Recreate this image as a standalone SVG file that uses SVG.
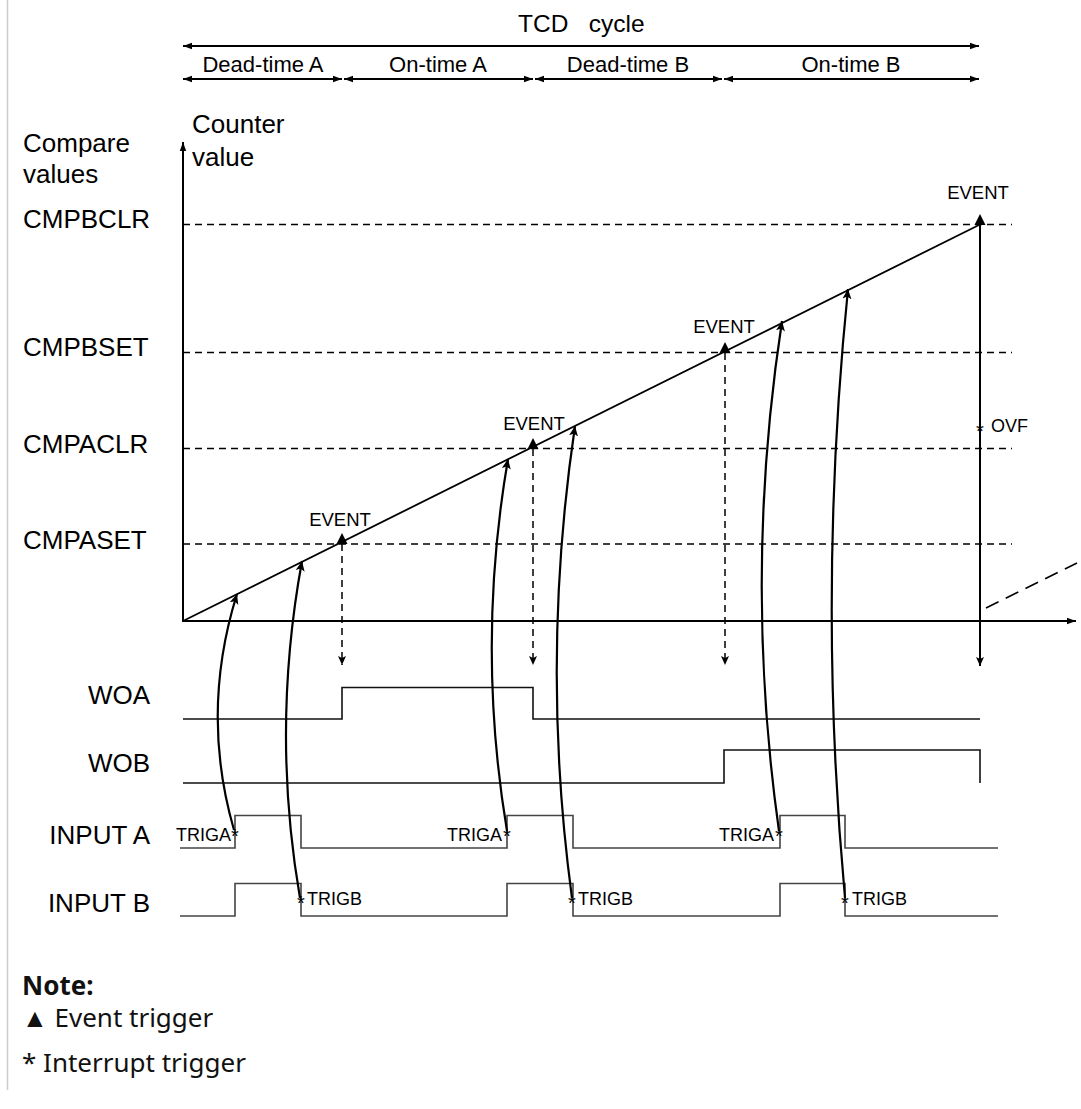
<svg xmlns="http://www.w3.org/2000/svg" width="1081" height="1109" viewBox="0 0 1081 1109">
<style>
.t{font-family:"Liberation Sans",Arial,sans-serif;fill:#000}
.lab{font-size:26px}
.seg{font-size:22px;text-anchor:middle}
.ev{font-size:18.5px;text-anchor:middle}
.tr{font-size:18px}
.st{font-family:"Liberation Sans",Arial,sans-serif;font-size:20px;text-anchor:middle}
.note{font-family:"Noto Sans","Open Sans",sans-serif;font-size:26px;fill:#111}
.dash{stroke:#000;stroke-width:1.5;stroke-dasharray:7 5;fill:none}
.ax{stroke:#000;stroke-width:2;fill:none}
.cur{stroke:#000;stroke-width:2.2;fill:none}
.sig{stroke:#111;stroke-width:1.6;fill:none}
.inp{stroke:#444;stroke-width:1.6;fill:none}
</style>
<defs>
<marker id="sm" markerUnits="userSpaceOnUse" markerWidth="10" markerHeight="8" refX="9" refY="4" orient="auto-start-reverse"><path d="M0,0.8 L9,4 L0,7.2 Z" fill="#000"/></marker>
<marker id="ah" markerUnits="userSpaceOnUse" markerWidth="11" markerHeight="10" refX="10" refY="5" orient="auto-start-reverse"><path d="M0,0.5 L10,5 L0,9.5 L2.5,5 Z" fill="#000"/></marker>
<marker id="dn" markerUnits="userSpaceOnUse" markerWidth="10" markerHeight="10" refX="9" refY="5" orient="auto"><path d="M0,1 L9,5 L0,9 L2,5 Z" fill="#000"/></marker>
</defs>
<rect width="1081" height="1109" fill="#fff"/>
<line x1="7.5" y1="0" x2="7.5" y2="1090" stroke="#ccc" stroke-width="1.5"/>

<g id="cycle">
<text class="t" x="518" y="32" font-size="24.5" xml:space="preserve">TCD   cycle</text>
<line x1="183" y1="46" x2="979" y2="46" stroke="#000" stroke-width="1.8" marker-start="url(#sm)" marker-end="url(#sm)"/>
</g>
<g id="phases">
<text class="t seg" x="263" y="72">Dead-time A</text>
<text class="t seg" x="438" y="72">On-time A</text>
<text class="t seg" x="628" y="72">Dead-time B</text>
<text class="t seg" x="851" y="72">On-time B</text>
<line x1="183" y1="79" x2="342" y2="79" stroke="#000" stroke-width="1.8" marker-start="url(#sm)" marker-end="url(#sm)"/>
<line x1="344" y1="79" x2="533" y2="79" stroke="#000" stroke-width="1.8" marker-start="url(#sm)" marker-end="url(#sm)"/>
<line x1="535" y1="79" x2="722" y2="79" stroke="#000" stroke-width="1.8" marker-start="url(#sm)" marker-end="url(#sm)"/>
<line x1="724" y1="79" x2="979" y2="79" stroke="#000" stroke-width="1.8" marker-start="url(#sm)" marker-end="url(#sm)"/>
</g>

<g id="labels">
<text class="t lab" x="23" y="152">Compare</text>
<text class="t lab" x="23" y="183">values</text>
<text class="t lab" x="192" y="133">Counter</text>
<text class="t lab" x="192" y="166">value</text>
<text class="t lab" x="23" y="228">CMPBCLR</text>
<text class="t lab" x="23" y="356">CMPBSET</text>
<text class="t lab" x="23" y="453">CMPACLR</text>
<text class="t lab" x="23" y="549">CMPASET</text>
<text class="t lab" x="150" y="704" text-anchor="end">WOA</text>
<text class="t lab" x="150" y="772" text-anchor="end">WOB</text>
<text class="t lab" x="150" y="844" text-anchor="end">INPUT A</text>
<text class="t lab" x="150" y="912" text-anchor="end">INPUT B</text>
</g>

<g id="chart">
<line class="dash" x1="183" y1="224.5" x2="1012" y2="224.5"/>
<line class="dash" x1="183" y1="352.5" x2="1012" y2="352.5"/>
<line class="dash" x1="183" y1="448.5" x2="1012" y2="448.5"/>
<line class="dash" x1="183" y1="544" x2="1012" y2="544"/>
<line class="ax" x1="183" y1="622" x2="183" y2="142" marker-end="url(#sm)"/>
<line class="ax" x1="182" y1="621" x2="1076" y2="621" marker-end="url(#sm)"/>
<line x1="183" y1="621" x2="979" y2="225" stroke="#000" stroke-width="1.8"/>
<line x1="986" y1="608" x2="1077" y2="563" stroke="#000" stroke-width="1.6" stroke-dasharray="14 8"/>
</g>

<g id="events">
<text class="t ev" x="340" y="526">EVENT</text>
<text class="t ev" x="534" y="430">EVENT</text>
<text class="t ev" x="724" y="333">EVENT</text>
<text class="t ev" x="978" y="199">EVENT</text>
<path d="M342,533 L336.5,544 L347.5,544 Z" fill="#000"/>
<path d="M533,438 L527.5,449 L538.5,449 Z" fill="#000"/>
<path d="M725,342 L719.5,353 L730.5,353 Z" fill="#000"/>
<path d="M980,214 L974.5,225 L985.5,225 Z" fill="#000"/>
<line class="dash" x1="342" y1="544" x2="342" y2="665" marker-end="url(#dn)"/>
<line class="dash" x1="533" y1="449" x2="533" y2="665" marker-end="url(#dn)"/>
<line class="dash" x1="725" y1="353" x2="725" y2="665" marker-end="url(#dn)"/>
<line x1="980" y1="225" x2="980" y2="666" stroke="#000" stroke-width="2" marker-end="url(#dn)"/>
<text class="st" x="980" y="438">*</text>
<text class="t" x="991" y="432" font-size="18">OVF</text>
</g>

<g id="WOA">
<path class="sig" d="M183,719 H342 V687.5 H533 V719 H980"/>
</g>
<g id="WOB">
<path class="sig" d="M183,783 H724 V750 H980 V783"/>
</g>
<g id="INPUT_A">
<path class="inp" d="M180,848 H235 V815.5 H301 V848 H507 V815.5 H573 V848 H780 V815.5 H845 V848 H998"/>
<text class="t tr" x="231" y="841" text-anchor="end">TRIGA</text>
<text class="t tr" x="502" y="841" text-anchor="end">TRIGA</text>
<text class="t tr" x="774" y="841" text-anchor="end">TRIGA</text>
<text class="st" x="235" y="843">*</text>
<text class="st" x="507" y="843">*</text>
<text class="st" x="779" y="843">*</text>
</g>
<g id="INPUT_B">
<path class="inp" d="M180,916 H235 V883.5 H301 V916 H507 V883.5 H573 V916 H780 V883.5 H845 V916 H998"/>
<text class="t tr" x="307" y="905">TRIGB</text>
<text class="t tr" x="578" y="905">TRIGB</text>
<text class="t tr" x="852" y="905">TRIGB</text>
<text class="st" x="301" y="910">*</text>
<text class="st" x="572" y="910">*</text>
<text class="st" x="845" y="910">*</text>
</g>

<g id="connectors">
<path class="cur" d="M234,830 Q200,712 237,594" marker-end="url(#ah)"/>
<path class="cur" d="M300,898 Q271,730 302,561" marker-end="url(#ah)"/>
<path class="cur" d="M507,831 Q476,645 508,459" marker-end="url(#ah)"/>
<path class="cur" d="M572,898 Q540,662 575,426" marker-end="url(#ah)"/>
<path class="cur" d="M779,831 Q743,576 782,321" marker-end="url(#ah)"/>
<path class="cur" d="M845,898 Q817,594 848,289" marker-end="url(#ah)"/>
</g>

<g id="note">
<text class="note" x="22" y="995" font-weight="bold">Note:</text>
<text class="note" x="22" y="1027">▲ Event trigger</text>
<text class="note" x="22" y="1072">* Interrupt trigger</text>
</g>
</svg>
